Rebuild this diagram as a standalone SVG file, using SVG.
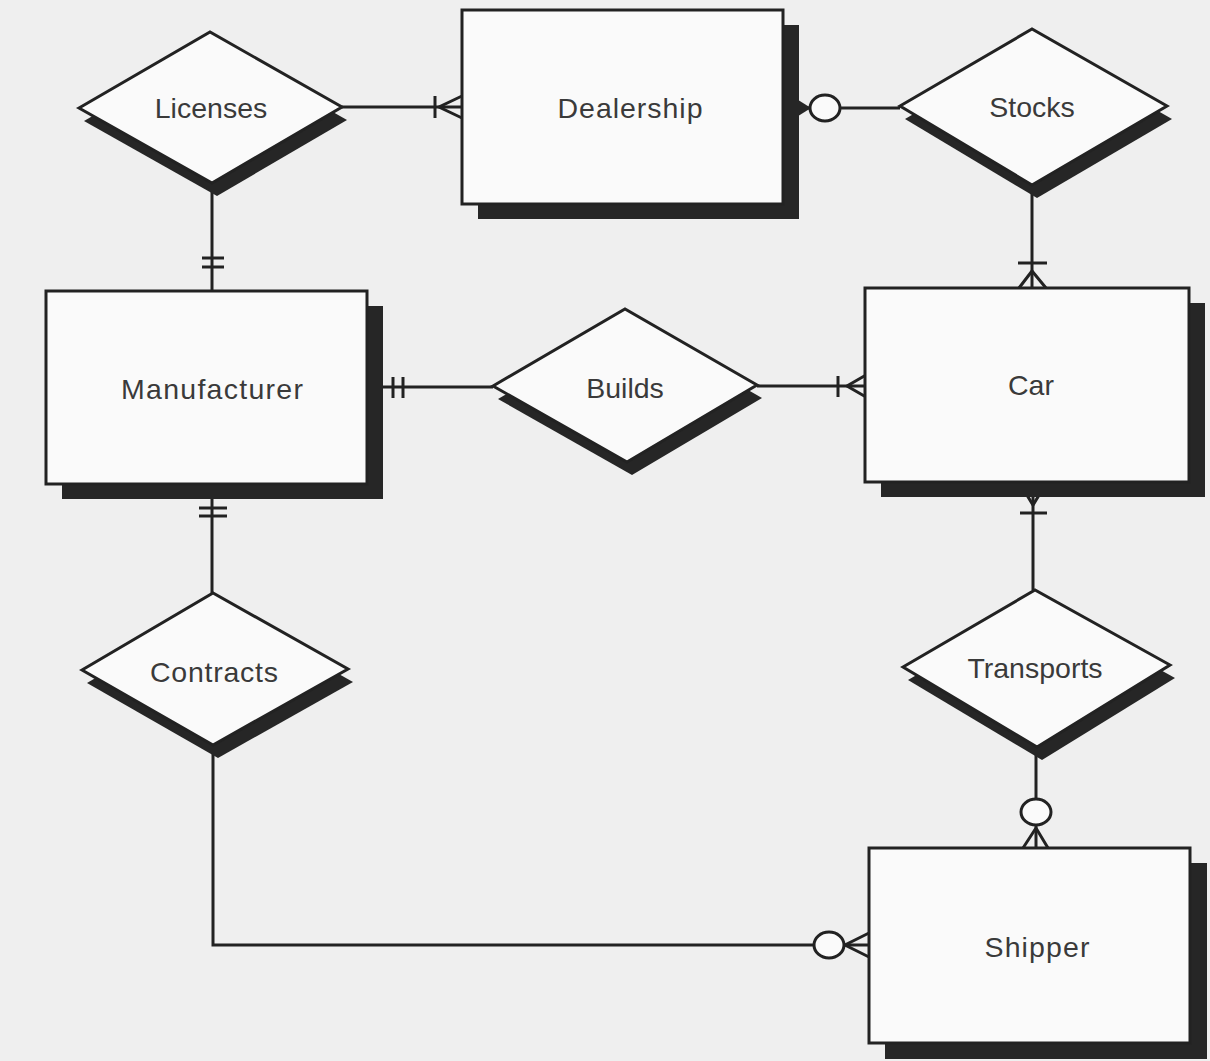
<svg xmlns="http://www.w3.org/2000/svg" width="1210" height="1061" viewBox="0 0 1210 1061">
<style>
.bg{fill:#efefef}
.box{fill:#fafafa;stroke:#222;stroke-width:3}
.shadow{fill:#262626}
.lbl{font-family:"Liberation Sans",Arial,sans-serif;font-size:28.5px;fill:#3a3a3a;text-anchor:middle}
.ln{fill:none;stroke:#222;stroke-width:3}
.circ{fill:#fafafa;stroke:#222;stroke-width:3}
</style>
<rect class="bg" x="0" y="0" width="1210" height="1061"/>

<g id="connectors">
  <!-- Licenses - Manufacturer -->
  <line class="ln" x1="212" y1="183" x2="212" y2="291"/>
  <line class="ln" x1="202" y1="258" x2="224" y2="258"/>
  <line class="ln" x1="202" y1="267" x2="224" y2="267"/>
  <!-- Licenses - Dealership -->
  <line class="ln" x1="342" y1="107" x2="462" y2="107"/>
  <line class="ln" x1="435" y1="96" x2="435" y2="118"/>
  <polyline class="ln" points="462,96 439,107 462,118"/>
  <!-- Dealership - Stocks -->
  <line class="ln" x1="783" y1="108" x2="900" y2="108"/>
  <polygon fill="#262626" points="795,98 811,108 795,118"/>
  <ellipse class="circ" cx="825" cy="108" rx="15" ry="13"/>
  <!-- Stocks - Car -->
  <line class="ln" x1="1032" y1="185" x2="1032" y2="288"/>
  <line class="ln" x1="1018" y1="263" x2="1047" y2="263"/>
  <polyline class="ln" points="1019,288 1032,271 1046,288"/>
  <!-- Manufacturer - Builds -->
  <line class="ln" x1="367" y1="387" x2="493" y2="387"/>
  <line class="ln" x1="393" y1="377" x2="393" y2="398"/>
  <line class="ln" x1="403" y1="377" x2="403" y2="398"/>
  <!-- Builds - Car -->
  <line class="ln" x1="757" y1="386" x2="866" y2="386"/>
  <line class="ln" x1="838" y1="376" x2="838" y2="397"/>
  <polyline class="ln" points="866,375 847,386 866,397"/>
  <!-- Car - Transports -->
  <line class="ln" x1="1033" y1="482" x2="1033" y2="590"/>
  <line class="ln" x1="1020" y1="513" x2="1047" y2="513"/>
  <polyline class="ln" points="1019,482 1033,505 1047,482"/>
  <!-- Manufacturer - Contracts -->
  <line class="ln" x1="212" y1="484" x2="212" y2="593"/>
  <line class="ln" x1="199" y1="508" x2="227" y2="508"/>
  <line class="ln" x1="199" y1="516" x2="227" y2="516"/>
  <!-- Transports - Shipper -->
  <line class="ln" x1="1036" y1="747" x2="1036" y2="848"/>
  <polyline class="ln" points="1023,848 1036,828 1048,848"/>
  <ellipse class="circ" cx="1036" cy="812" rx="15" ry="13"/>
  <!-- Contracts - Shipper -->
  <polyline class="ln" points="213,745 213,945 869,945"/>
  <polyline class="ln" points="869,933 845,945 869,957"/>
  <ellipse class="circ" cx="829" cy="945" rx="15" ry="13"/>
</g>

<g id="node-licenses">
  <polygon class="shadow" points="84,121 215,45 347,120 217,196"/>
  <polygon class="box" points="79,108 210,32 342,107 212,183"/>
  <text class="lbl" x="211" y="118">Licenses</text>
</g>

<g id="node-dealership">
  <rect class="shadow" x="478" y="25" width="321" height="194"/>
  <rect class="box" x="462" y="10" width="321" height="194"/>
  <text class="lbl" x="630" y="118" textLength="145">Dealership</text>
</g>

<g id="node-stocks">
  <polygon class="shadow" points="905,119 1037,42 1172,119 1037,198"/>
  <polygon class="box" points="900,106 1032,29 1167,106 1032,185"/>
  <text class="lbl" x="1032" y="117">Stocks</text>
</g>

<g id="node-manufacturer">
  <rect class="shadow" x="62" y="306" width="321" height="193"/>
  <rect class="box" x="46" y="291" width="321" height="193"/>
  <text class="lbl" x="212" y="399" textLength="182">Manufacturer</text>
</g>

<g id="node-builds">
  <polygon class="shadow" points="498,399 630,322 762,398 632,475"/>
  <polygon class="box" points="493,386 625,309 757,385 627,462"/>
  <text class="lbl" x="625" y="398">Builds</text>
</g>

<g id="node-car">
  <rect class="shadow" x="881" y="303" width="324" height="194"/>
  <rect class="box" x="865" y="288" width="324" height="194"/>
  <text class="lbl" x="1031" y="395">Car</text>
</g>

<g id="node-contracts">
  <polygon class="shadow" points="87,683 218,606 353,682 218,758"/>
  <polygon class="box" points="82,670 213,593 348,669 213,745"/>
  <text class="lbl" x="214" y="682" textLength="128">Contracts</text>
</g>

<g id="node-transports">
  <polygon class="shadow" points="908,680 1040,603 1175,678 1042,760"/>
  <polygon class="box" points="903,667 1035,590 1170,665 1037,747"/>
  <text class="lbl" x="1035" y="678">Transports</text>
</g>

<g id="node-shipper">
  <rect class="shadow" x="885" y="863" width="322" height="196"/>
  <rect class="box" x="869" y="848" width="321" height="195"/>
  <text class="lbl" x="1037" y="957" textLength="105">Shipper</text>
</g>
</svg>
